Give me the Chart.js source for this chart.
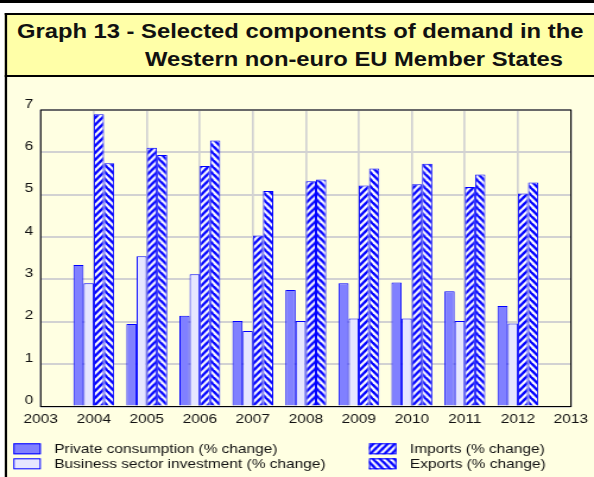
<!DOCTYPE html>
<html>
<head>
<meta charset="utf-8">
<title>Graph 13</title>
<script src="https://cdn.jsdelivr.net/npm/chart.js@4.4.1/dist/chart.umd.min.js"></script>
<style>
  html, body { margin: 0; padding: 0; background: #fff; }
  body { width: 594px; height: 477px; overflow: hidden; position: relative; }
  /* the sheet is laid out 500px wide and widened to the 594px page */
  #sheet {
    position: absolute; left: 0; top: 0; width: 500px; height: 477px;
    transform: scaleX(1.188); transform-origin: 0 0;
    font-family: "Liberation Sans", Arial, Helvetica, sans-serif; color: #111;
  }
  #rule { position: absolute; left: 0; top: 0; width: 500px; height: 2.5px; background: #000; }
  #head {
    position: absolute; left: 4px; top: 13px; width: 494px; height: 60px;
    background: #ffffa8; border: 2px solid #000; border-right: none;
  }
  .ttl { position: absolute; font-weight: bold; font-size: 20px; line-height: 20px; white-space: nowrap; }
  #panel {
    position: absolute; left: 4px; top: 77px; width: 494px; height: 400px;
    background: #ffffe2; border-left: 2px solid #000;
  }
  #panel canvas { position: absolute; left: 0; top: 0; }
</style>
</head>
<body>
<div id="sheet">
  <div id="rule"></div>
  <div id="head"></div>
  <div class="ttl" style="left:14.3px; top:21px;">Graph 13 - Selected components of demand in the</div>
  <div class="ttl" style="left:122px; top:49px;">Western non-euro EU Member States</div>
  <div id="panel">
    <canvas id="demandChart" width="494" height="400" style="width:494px;height:400px;"></canvas>
  </div>
</div>
<script>
// axis years (ticks run one year past the data on each side)
const tickYears = ['2003', '2004', '2005', '2006', '2007', '2008', '2009', '2010', '2011', '2012', '2013'];
const dataYears = ['2004', '2005', '2006', '2007', '2008', '2009', '2010', '2011', '2012'];

// % change, 2004-2012
const privateConsumption = [3.34, 1.95, 2.14, 2.02, 2.75, 2.91, 2.93, 2.72, 2.37];
const businessInvestment = [2.91, 3.55, 3.12, 1.78, 2.02, 2.08, 2.08, 2.02, 1.96];
const importsChange = [6.90, 6.11, 5.68, 4.04, 5.32, 5.22, 5.25, 5.18, 5.03];
const exportsChange = [5.74, 5.94, 6.28, 5.09, 5.36, 5.62, 5.73, 5.48, 5.29];

const yTicks = [0, 1, 2, 3, 4, 5, 6, 7];

const BLUE = '#0000ff';
const TEXT = '#111';
const FONT = '"Liberation Sans", Arial, Helvetica, sans-serif';

// spread a 2004-2012 series over the 2003-2013 ticks
function onTicks(values) {
  return tickYears.map(y => {
    const i = dataYears.indexOf(y);
    return i < 0 ? null : values[i];
  });
}

// one tile of diagonal blue/white stripes, '/' or '\'
function hatchTile(dir) {
  const w = 6, h = 7;
  const c = document.createElement('canvas');
  c.width = w; c.height = h;
  const g = c.getContext('2d');
  g.fillStyle = '#fff';
  g.fillRect(0, 0, w, h);
  g.strokeStyle = BLUE;
  g.lineWidth = 2.4;
  for (const k of [-1, 0, 1]) {
    const x0 = k * w;
    g.beginPath();
    if (dir === '/') { g.moveTo(x0 - w, 2 * h); g.lineTo(x0 + 2 * w, -h); }
    else { g.moveTo(x0 - w, -h); g.lineTo(x0 + 2 * w, 2 * h); }
    g.stroke();
  }
  return c;
}

const tiles = { '/': hatchTile('/'), '\\': hatchTile('\\') };

function hatchPattern(ctx, dir, x0) {
  const p = ctx.createPattern(tiles[dir], 'repeat');
  p.setTransform(new DOMMatrix().translate(x0, 0));
  return p;
}

// pin the stripes to the middle of each year group so imports+exports make chevrons
function hatchFill(dir) {
  return (c) => {
    const chart = c.chart;
    const xs = chart.scales && chart.scales.x;
    let x0 = 0;
    if (xs && c.dataIndex != null) x0 = xs.getPixelForValue(c.dataIndex);
    return hatchPattern(chart.ctx, dir, x0);
  };
}

const frame = {
  id: 'frame',
  afterDatasetsDraw(chart) {
    const { ctx, chartArea: a } = chart;
    ctx.save();
    ctx.strokeStyle = '#000';
    ctx.lineWidth = 1;
    ctx.strokeRect(a.left, a.top, a.right - a.left, a.bottom - a.top);
    ctx.restore();
  }
};

// two-column key under the axis
const key = {
  id: 'key',
  afterDraw(chart) {
    const ctx = chart.ctx;
    const cols = [5.2, 304.6];
    const rows = [366.3, 381.3];
    const bw = 23.1, bh = 11;
    ctx.save();
    ctx.font = '13px ' + FONT;
    ctx.fillStyle = TEXT;
    ctx.textBaseline = 'alphabetic';
    chart.data.datasets.forEach((ds, i) => {
      const x = cols[Math.floor(i / 2)];
      const y = rows[i % 2];
      ctx.fillStyle = ds.hatch ? hatchPattern(ctx, ds.hatch, x) : ds.backgroundColor;
      ctx.fillRect(x, y, bw, bh);
      ctx.strokeStyle = BLUE;
      ctx.lineWidth = 1;
      ctx.strokeRect(x + 0.5, y + 0.5, bw - 1, bh - 1);
      ctx.fillStyle = TEXT;
      ctx.fillText(ds.label, x + 34.5, y + 9.8);
    });
    ctx.restore();
  }
};

const barStyle = {
  borderColor: BLUE,
  borderWidth: 1,
  categoryPercentage: 0.77,
  barPercentage: 1.0
};

new Chart(document.getElementById('demandChart'), {
  type: 'bar',
  data: {
    labels: tickYears,
    datasets: [
      Object.assign({ label: 'Private consumption (% change)', data: onTicks(privateConsumption), backgroundColor: '#8080ff' }, barStyle),
      Object.assign({ label: 'Business sector investment (% change)', data: onTicks(businessInvestment), backgroundColor: '#e6e6ff' }, barStyle),
      Object.assign({ label: 'Imports (% change)', data: onTicks(importsChange), backgroundColor: hatchFill('/'), hatch: '/' }, barStyle),
      Object.assign({ label: 'Exports (% change)', data: onTicks(exportsChange), backgroundColor: hatchFill('\\'), hatch: '\\' }, barStyle)
    ]
  },
  options: {
    responsive: false,
    animation: false,
    events: [],
    layout: { padding: { left: 0, right: 17.7, top: 33, bottom: 50.5 } },
    plugins: { legend: { display: false }, tooltip: { enabled: false } },
    scales: {
      x: {
        offset: false,
        grid: { offset: false, color: '#d2d2d2', lineWidth: 1.7, drawTicks: false },
        border: { display: false },
        ticks: { color: TEXT, font: { family: FONT, size: 13 }, padding: 5, maxRotation: 0, autoSkip: false },
        afterFit: s => { s.height = 20; }
      },
      y: {
        min: yTicks[0],
        max: yTicks[yTicks.length - 1],
        afterBuildTicks: s => { s.ticks = yTicks.map(v => ({ value: v })); },
        grid: { color: '#d2d2d2', lineWidth: 2, drawTicks: false },
        border: { display: false },
        ticks: { color: TEXT, font: { family: FONT, size: 13 }, padding: 6.2, labelOffset: -6 },
        afterFit: s => { s.width = 28.3; }
      }
    }
  },
  plugins: [frame, key]
});
</script>
</body>
</html>
